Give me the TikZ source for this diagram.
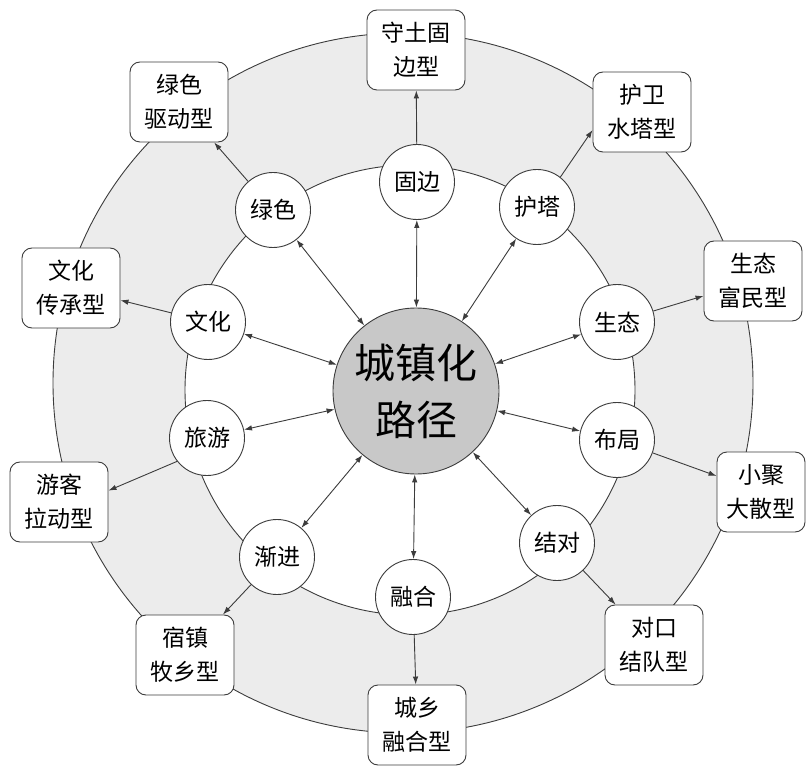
\documentclass[tikz,border=0pt]{standalone}
\usepackage{fontspec}
\newfontfamily\cjk{Noto Sans CJK SC}
\usetikzlibrary{arrows.meta}
\definecolor{ringgray}{RGB}{236,236,236}
\definecolor{coregray}{RGB}{200,200,200}
\definecolor{linegray}{RGB}{60,60,60}
\begin{document}
\begin{tikzpicture}[x=1pt,y=1pt,
  linecol/.style={draw=linegray, line width=0.9pt},
  core/.style={circle, linecol, fill=coregray, minimum size=166pt, inner sep=0pt, align=center, font=\cjk\fontsize{41}{57}\selectfont},
  sub/.style={circle, linecol, fill=white, minimum size=75pt, inner sep=0pt, font=\cjk\fontsize{23}{30}\selectfont},
  typebox/.style={rectangle, rounded corners=10pt, linecol, fill=white, minimum width=98pt, minimum height=80pt, inner sep=0pt, align=center, font=\cjk\fontsize{23}{34}\selectfont},
  biarrow/.style={linecol, {Latex[length=8pt,width=5.5pt]}-{Latex[length=8pt,width=5.5pt]}},
  onearrow/.style={linecol, -{Latex[length=8pt,width=5.5pt]}}
]
\useasboundingbox (0,0) rectangle (806,-767);
% rings
\fill[ringgray] (403,-383) circle (350pt);
\draw[linecol] (403,-383) circle (350pt);
\filldraw[linecol, fill=white] (410,-390) circle (225pt);
% core
\node[core] (core) at (416,-391) {城镇化\\路径};
% sub circles
\node[sub] (guban) at (417,-182) {固边};
\node[sub] (huta) at (537,-207) {护塔};
\node[sub] (shengtai) at (617,-322) {生态};
\node[sub] (buju) at (617,-440) {布局};
\node[sub] (jiedui) at (557,-543) {结对};
\node[sub] (ronghe) at (413,-597) {融合};
\node[sub] (jianjin) at (277,-557) {渐进};
\node[sub] (lvyou) at (207,-438) {旅游};
\node[sub] (wenhua) at (208,-322) {文化};
\node[sub] (lvse) at (273,-210) {绿色};
% type boxes
\node[typebox] (bshoutu) at (416,-50) {守土固\\边型};
\node[typebox] (bhuwei) at (642,-112) {护卫\\水塔型};
\node[typebox] (bshengtai) at (753,-281) {生态\\富民型};
\node[typebox, minimum width=88pt] (bxiaoju) at (761,-492) {小聚\\大散型};
\node[typebox] (bduikou) at (654,-645) {对口\\结队型};
\node[typebox] (bchengxiang) at (417,-725) {城乡\\融合型};
\node[typebox] (bsuzhen) at (185,-655) {宿镇\\牧乡型};
\node[typebox] (byouke) at (59,-502) {游客\\拉动型};
\node[typebox] (bwenhua) at (71,-288) {文化\\传承型};
\node[typebox] (blvse) at (179,-102) {绿色\\驱动型};
% core <-> sub
\foreach \n in {guban,huta,shengtai,buju,jiedui,ronghe,jianjin,lvyou,wenhua,lvse}
  \draw[biarrow] (core) -- (\n);
% sub -> box
\draw[onearrow] (guban) -- (bshoutu);
\draw[onearrow] (huta.52) -- (bhuwei.200);
\draw[onearrow] (shengtai) -- (bshengtai);
\draw[onearrow] (buju) -- (bxiaoju);
\draw[onearrow] (jiedui) -- (bduikou);
\draw[onearrow] (ronghe) -- (bchengxiang);
\draw[onearrow] (jianjin) -- (bsuzhen);
\draw[onearrow] (lvyou.218) -- (byouke.13);
\draw[onearrow] (wenhua) -- (bwenhua);
\draw[onearrow] (lvse) -- (blvse);
\end{tikzpicture}
\end{document}
